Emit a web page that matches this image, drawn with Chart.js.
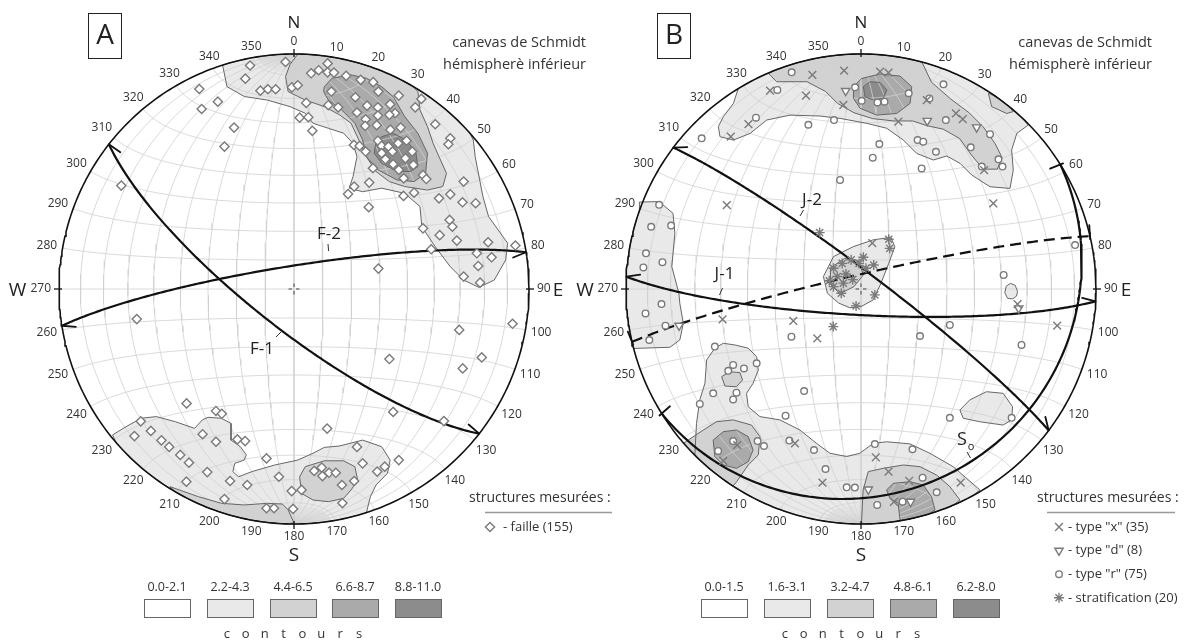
<!DOCTYPE html>
<html>
<head>
<meta charset="utf-8">
<script src="https://cdn.jsdelivr.net/npm/chart.js@4.4.0/dist/chart.umd.min.js"></script>
<style>
  html, body { margin: 0; padding: 0; background: #fff; }
  #wrap { position: relative; width: 1201px; height: 643px; overflow: hidden; }
  #wrap canvas { position: absolute; left: 0; top: 0; }
</style>
</head>
<body>
<div id="wrap">
  <canvas id="netA" width="1201" height="643"></canvas>
  <canvas id="netB" width="1201" height="643"></canvas>
</div>
<script>
const D2R = Math.PI / 180;

// ---------- data (net coordinates in % of the net radius, x = east, y = north) ----------
const azimuths = [0, 10, 20, 30, 40, 50, 60, 70, 80, 90, 100, 110, 120, 130, 140, 150, 160, 170,
  180, 190, 200, 210, 220, 230, 240, 250, 260, 270, 280, 290, 300, 310, 320, 330, 340, 350];

const contourClassesA = ['0.0-2.1', '2.2-4.3', '4.4-6.5', '6.6-8.7', '8.8-11.0'];
const contourClassesB = ['0.0-1.5', '1.6-3.1', '3.2-4.7', '4.8-6.1', '6.2-8.0'];

const structuresA = ['- faille (155)'];
const structuresB = ['- type "x" (35)', '- type "d" (8)', '- type "r" (75)', '- stratification (20)'];

// great circles: dip direction / dip
const planesA = [
  { name: 'F-1', dipDir: 218, dip: 76 },
  { name: 'F-2', dipDir: 351, dip: 82 }
];
const planesB = [
  { name: 'J-1', dipDir: 183, dip: 81 },
  { name: 'J-2', dipDir: 37, dip: 84 },
  { name: 'J-dash', dipDir: 347, dip: 85 },
  { name: 'So', dipDir: 148, dip: 14 }
];

const faillesA = [
  [-18.7, 95.1], [-20.7, 89.5], [-3.6, 96.6], [-40.3, 85.1], [-32.4, 79.7], [-39.3, 76.6], [-25.5, 68.7],
  [-29.6, 60.6], [-73.5, 44.0], [-14.3, 84.4], [-11.1, 85.0], [-7.8, 85.0], [-0.9, 85.8], [1.6, 86.7],
  [7.3, 91.8], [10.5, 93.1], [14.3, 96.0], [14.3, 92.2], [17.0, 92.1], [22.2, 90.7], [28.4, 89.0], [33.7, 88.0],
  [5.2, 79.2], [2.4, 72.9], [6.1, 73.1], [7.8, 67.3], [14.6, 78.2], [18.8, 77.3],
  [15.9, 84.0], [26.1, 81.6], [35.9, 84.0], [44.6, 82.3], [54.2, 80.9],
  [31.1, 78.0], [35.7, 77.3], [40.9, 78.6], [43.0, 74.8], [51.6, 77.3],
  [26.8, 75.1], [30.5, 72.2], [35.7, 73.8], [40.6, 74.1],
  [30.3, 69.4], [35.2, 69.7], [41.0, 67.8], [45.4, 68.7], [60.1, 70.1], [66.5, 64.1], [65.7, 61.6],
  [25.5, 61.3], [27.9, 60.9], [35.7, 63.1], [37.3, 60.9], [40.2, 60.6], [44.3, 62.0], [47.9, 63.1],
  [30.5, 58.5], [37.3, 57.8], [41.9, 58.5], [47.4, 55.6], [50.3, 58.5],
  [33.6, 51.4], [38.9, 55.2], [42.2, 53.1], [44.6, 50.7], [46.7, 47.1], [50.8, 52.8], [54.9, 48.5], [56.3, 46.8],
  [25.6, 43.6], [23.0, 40.4], [32.0, 45.3], [31.8, 34.8],
  [51.1, 41.0], [46.6, 39.6], [61.7, 38.6], [66.5, 40.3], [71.7, 36.9], [77.3, 36.5], [72.2, 45.7],
  [66.2, 29.4], [67.4, 26.5], [54.9, 25.8], [62.0, 22.9], [69.3, 20.6],
  [58.4, 16.9], [82.6, 19.9], [77.8, 15.2], [84.1, 13.5], [94.2, 18.5], [78.4, 9.8], [72.2, 5.3], [79.2, 2.7],
  [35.9, 8.7],
  [-66.9, -12.8], [93.0, -14.8], [70.3, -17.4], [40.6, -29.8], [79.9, -29.1], [71.8, -33.8], [-45.7, -48.7],
  [42.2, -52.3], [63.8, -56.2], [-33.2, -51.9], [-30.7, -53.1], [14.1, -59.4], [-65.2, -56.3], [-67.9, -62.6],
  [-60.9, -60.4], [-56.4, -64.4], [-53.1, -67.2], [-48.4, -70.6], [-44.7, -73.9], [-38.9, -61.8], [-33.2, -65.0],
  [-24.1, -64.0], [-20.8, -64.7], [-11.7, -72.1], [-36.9, -77.9], [-45.8, -82.0], [-27.2, -81.7], [-19.9, -83.4],
  [-6.4, -79.9], [-29.6, -89.4], [-11.7, -93.3], [-8.5, -93.3], [-0.4, -93.6], [-1.0, -86.0], [3.2, -85.5],
  [8.6, -77.4], [11.8, -76.0], [12.1, -79.6], [14.9, -78.2], [17.8, -78.2], [20.4, -83.4], [25.6, -81.7],
  [20.6, -91.1], [29.2, -74.2], [26.8, -67.2], [35.4, -77.7], [38.6, -75.6], [44.6, -72.8]
];

const typeX = [
  [-20.7, 91.1], [-7.2, 92.9], [-38.7, 84.4], [-23.4, 82.3], [-47.9, 70.2], [-55.4, 64.8], [-7.5, 78.3],
  [8.1, 92.5], [11.7, 92.1], [15.9, 71.2], [28.0, 80.4], [40.4, 74.7], [43.3, 72.3], [52.4, 50.6],
  [56.3, 36.4], [-57.1, 35.7], [4.8, 19.5], [66.6, -6.4], [-58.9, -12.9], [-28.8, -13.6], [-18.6, -21.0],
  [83.5, -15.6], [-52.7, -66.4], [-28.1, -65.7], [6.3, -71.6], [11.7, -77.7], [-16.4, -82.4], [20.5, -81.6],
  [14.0, -90.6], [42.4, -82.4], [-58.6, -73.1]
];
const typeD = [
  [-6.5, 84.3], [28.2, 71.6], [49.2, 68.8], [-77.4, -15.6], [3.1, -85.3], [21.1, -90.5], [67.1, -8.2]
];
const typeR = [
  [-29.5, 92.2], [-35.6, 84.7], [-44.7, 72.9], [-67.8, 64.1], [-22.4, 69.9], [-11.5, 71.9], [-2.5, 85.8],
  [0.3, 80.1], [7.0, 79.4], [10.0, 79.7], [20.3, 83.3], [35.1, 87.1], [29.1, 81.1], [36.1, 71.9], [7.8, 61.7],
  [5.0, 55.9], [-8.9, 46.4], [24.1, 63.4], [26.5, 62.7], [31.9, 58.4], [25.8, 51.3], [54.9, 65.9], [46.7, 60.3],
  [58.5, 55.2], [51.4, 52.1], [60.2, 52.1],
  [-85.9, 35.8], [-89.3, 26.5], [-80.8, 27.0], [-91.5, 15.2], [-84.5, 11.4], [-92.6, 9.2], [60.7, 6.0], [91.1, 18.7],
  [-84.9, -6.4], [-91.7, -10.4], [-83.2, -15.6], [-90.1, -21.7], [-29.6, -20.3], [25.1, -20.0], [37.8, -15.3],
  [68.3, -23.8], [-62.2, -24.5], [-54.4, -32.3], [-49.8, -33.8], [-56.5, -34.8], [-44.4, -31.6], [-62.9, -44.4],
  [-53.0, -44.1], [-54.4, -47.0], [-68.6, -48.9], [-24.2, -43.4], [-32.1, -53.9], [-54.4, -64.7], [-44.0, -64.7],
  [-41.3, -66.8], [-60.8, -68.9], [-30.5, -64.5], [-20.0, -68.5], [-15.1, -76.6], [-6.1, -84.4], [-2.6, -84.5],
  [5.9, -66.0], [21.9, -68.2], [26.2, -80.3], [32.2, -86.5], [6.9, -91.9], [17.7, -90.5], [37.8, -54.8], [64.1, -54.8]
];
const stratification = [
  [-17.6, 24.0], [11.8, 21.2], [12.2, 17.3], [-11.7, 8.8], [-8.0, 10.9], [-4.2, 12.4], [-0.8, 10.9], [2.1, 8.8],
  [5.4, 10.2], [-10.1, 5.3], [-6.4, 6.4], [-11.7, 1.0], [-8.4, -1.8], [5.9, -2.5], [-2.1, -7.2], [-11.8, -16.0],
  [-7.5, 2.5], [-3.5, 4.0], [-13.5, 3.5], [1.0, 13.5]
];

// contour regions: level = class index, close = follow the primitive from last point back to first (+1 cw, -1 ccw)
const contoursA = [
  { level: 1, close: -1, pts: [[-30.4, 95.3], [-28.5, 86.1], [-21.1, 81.9], [-11.4, 80.4], [-1.7, 77.6], [4.8, 74.8],
    [8.1, 70.5], [14.6, 68.4], [21.1, 66.3], [25.1, 62.0], [26.8, 56.3], [25.1, 47.8], [23.5, 42.9], [29.2, 41.4],
    [37.3, 42.9], [47.1, 40.7], [53.6, 35.1], [54.4, 26.5], [60.1, 18.0], [66.5, 9.5], [72.2, 3.8], [78.7, 0.7],
    [85.2, 3.8], [90.1, 12.4], [90.9, 19.5], [86.9, 25.1], [82.8, 30.8], [80.4, 39.3], [77.1, 56.3], [76.3, 63.4]] },
  { level: 2, close: -1, pts: [[1.6, 99.9], [-1.7, 95.5], [-3.6, 90.4], [-2.5, 84.0], [4.8, 80.4], [12.9, 77.6],
    [19.4, 74.1], [24.3, 70.5], [27.6, 63.4], [30.8, 56.3], [34.9, 50.0], [40.6, 45.7], [47.1, 43.6], [56.8, 42.1],
    [63.3, 43.6], [64.9, 49.2], [61.7, 56.3], [59.2, 62.0], [56.8, 69.1], [53.6, 76.2], [52.7, 84.0]] },
  { level: 3, close: 0, pts: [[12.9, 86.1], [16.2, 89.7], [24.3, 91.1], [30.8, 89.7], [37.3, 86.1], [42.2, 81.9],
    [47.1, 73.4], [52.7, 66.3], [56.8, 57.8], [56.0, 49.2], [51.1, 45.7], [43.8, 46.4], [35.7, 50.7], [30.8, 56.3],
    [29.2, 63.4], [25.9, 70.5], [20.3, 76.2], [14.6, 80.4], [12.6, 84.0]] },
  { level: 4, close: 0, pts: [[37.3, 64.8], [42.2, 66.3], [47.9, 63.4], [51.9, 57.8], [52.7, 52.1], [49.5, 50.0],
    [43.8, 50.0], [37.3, 53.5], [34.1, 57.8], [34.9, 62.7]] },
  { level: 1, close: 1, pts: [[-77.2, -62.1], [-71.5, -58.6], [-65.0, -55.0], [-58.5, -54.3], [-50.4, -56.5],
    [-42.3, -59.3], [-39.0, -55.7], [-36.6, -54.6], [-30.9, -55.0], [-26.8, -57.2], [-26.8, -64.3], [-22.8, -67.1],
    [-20.3, -70.6], [-21.2, -72.8], [-25.2, -74.2], [-26.0, -77.7], [-23.6, -79.9], [-17.9, -77.7], [-8.2, -74.9],
    [1.6, -72.8], [8.1, -69.9], [12.9, -67.4], [19.4, -66.8], [29.2, -64.3], [37.3, -67.1], [40.9, -72.8],
    [39.8, -78.4], [34.9, -83.4], [32.5, -88.4], [30.8, -95.2]] },
  { level: 2, close: 1, pts: [[-52.8, -84.1], [-40.6, -88.4], [-30.9, -91.2], [-21.2, -91.9], [-11.4, -91.2],
    [-4.9, -91.5], [-2.5, -94.0], [0.0, -99.5]] },
  { level: 2, close: 0, pts: [[2.4, -79.9], [4.8, -75.6], [12.9, -73.1], [21.1, -73.1], [25.9, -75.6], [27.1, -81.3],
    [24.3, -85.5], [21.1, -89.1], [14.6, -90.5], [8.1, -89.8], [3.2, -87.0]] }
];

const contoursB = [
  { level: 1, close: -1, pts: [[-52.2, 85.4], [-54.3, 79.0], [-58.6, 73.3], [-60.7, 69.1], [-60.0, 64.8], [-54.3, 63.4],
    [-47.2, 66.2], [-40.1, 71.9], [-30.2, 74.0], [-17.4, 73.6], [-8.9, 72.6], [2.4, 70.5], [10.9, 68.4], [18.0, 63.4],
    [23.7, 57.7], [30.8, 54.9], [36.5, 56.6], [42.1, 53.5], [47.1, 48.5], [54.9, 43.5], [63.4, 42.8], [64.8, 50.6],
    [64.1, 59.1], [66.3, 66.2], [71.2, 69.8]] },
  { level: 2, close: 1, pts: [[25.9, 96.6], [30.0, 88.0], [38.0, 81.0], [46.0, 75.0], [52.0, 69.0], [57.0, 62.0],
    [60.0, 56.0], [58.0, 51.0], [52.0, 51.0], [47.0, 57.0], [42.0, 64.0], [35.0, 68.0], [28.0, 69.5], [22.0, 71.5],
    [14.0, 71.5], [5.0, 72.5], [-3.0, 75.0], [-10.0, 79.0], [-15.0, 84.0], [-23.0, 88.2], [-35.9, 88.2], [-39.4, 91.8]] },
  { level: 3, close: 0, pts: [[-3.2, 86.1], [0.3, 89.6], [8.1, 91.5], [16.6, 90.6], [21.6, 86.1], [20.9, 79.0],
    [15.2, 74.7], [6.7, 74.0], [-0.4, 76.9], [-3.2, 81.1]] },
  { level: 4, close: 0, pts: [[1.0, 86.1], [3.9, 88.2], [8.1, 87.9], [11.0, 84.7], [9.5, 81.1], [5.3, 80.4], [1.7, 81.8]] },
  { level: 2, close: -1, pts: [[54.2, 83.3], [55.6, 77.6], [62.0, 74.7], [64.8, 75.5]] },
  { level: 1, close: 1, pts: [[-94.3, 37.0], [-85.9, 37.2], [-80.0, 32.2], [-79.2, 23.7], [-80.5, 9.5], [-77.5, -1.8],
    [-77.1, -6.1], [-75.6, -14.6], [-77.1, -21.7], [-81.3, -24.8], [-96.9, -25.3]] },
  { level: 1, close: 0, pts: [[-16.0, 5.3], [-11.7, 13.8], [-3.3, 18.0], [5.1, 20.9], [12.7, 22.0], [14.4, 18.0],
    [11.8, 10.9], [8.5, 2.4], [5.1, -4.7], [0.0, -7.5], [-4.7, -8.0], [-9.5, -6.0], [-14.3, -1.8]] },
  { level: 2, close: 0, pts: [[-13.0, 9.0], [-7.0, 13.0], [-1.0, 12.0], [1.0, 6.0], [-3.0, 1.0], [-9.0, -2.0], [-13.0, 2.0]] },
  { level: 1, close: -1, pts: [[50.6, -85.5], [39.2, -75.6], [29.3, -69.9], [20.8, -65.9], [10.9, -65.0], [5.2, -65.7],
    [-0.5, -69.9], [-6.1, -71.3], [-13.2, -69.9], [-18.9, -65.7], [-26.0, -60.0], [-34.5, -55.7], [-43.0, -54.3],
    [-48.0, -50.1], [-48.7, -44.4], [-45.9, -40.1], [-43.7, -34.5], [-44.4, -28.8], [-48.0, -25.2], [-53.7, -23.8],
    [-58.6, -23.1], [-62.2, -25.2], [-65.7, -30.2], [-66.4, -40.1], [-68.6, -47.2], [-70.0, -57.2], [-70.7, -70.6]] },
  { level: 2, close: 0, pts: [[-59.3, -37.3], [-55.8, -35.2], [-51.5, -35.6], [-50.4, -38.7], [-53.0, -41.6], [-57.9, -41.3]] },
  { level: 2, close: 1, pts: [[-75.5, -65.6], [-67.1, -60.0], [-61.5, -56.5], [-54.4, -55.7], [-46.6, -57.9],
    [-43.0, -62.8], [-43.7, -70.6], [-48.0, -74.9], [-52.9, -82.0], [-54.5, -83.9]] },
  { level: 3, close: 0, pts: [[-62.9, -64.3], [-58.6, -60.7], [-53.0, -60.0], [-48.0, -62.8], [-45.9, -68.5],
    [-48.0, -73.5], [-53.0, -76.3], [-58.6, -74.9], [-62.2, -71.3]] },
  { level: 2, close: 1, pts: [[0.2, -99.7], [0.9, -85.5], [3.1, -77.7], [9.5, -76.3], [18.0, -74.9], [25.1, -75.6],
    [32.2, -79.2], [37.8, -84.1], [42.1, -89.8]] },
  { level: 3, close: 1, pts: [[16.6, -98.3], [15.8, -91.2], [12.3, -89.1], [10.9, -85.5], [13.7, -82.7], [20.8, -82.0],
    [26.5, -83.4], [30.0, -88.4], [31.5, -94.0]] },
  { level: 1, close: 0, pts: [[42.1, -51.5], [46.3, -47.2], [53.4, -43.7], [60.5, -44.4], [64.5, -50.1], [64.1, -55.7],
    [60.5, -57.9], [50.6, -56.5], [43.5, -55.0]] },
  { level: 1, close: 0, pts: [[66.6, -1.0], [65.6, 1.6], [63.6, 2.4], [61.8, 1.2], [61.2, -1.6], [62.4, -4.0],
    [64.6, -4.2], [66.2, -3.0]] }
];

// ---------- styles ----------
const FONT = '"Open Sans", "DejaVu Sans", sans-serif';
const shades = ['#ffffff', '#e9e9e9', '#d2d2d2', '#aaaaaa', '#8c8c8c'];
const markGrey = '#7a7a7a';
const gridGrey = '#d0d0d0';
// end marks of the great circles: half arrow (barb) or cross tick, drawn on the side facing `toward` (azimuth)
const planeEnds = {
  'F-1': { kind: 'barb', toward: 38 }, 'F-2': { kind: 'barb', toward: 171 },
  'J-1': { kind: 'barb', toward: 3 }, 'J-2': { kind: 'barb', toward: 37 },
  'J-dash': { kind: 'tick', toward: 347 }, 'So': { kind: 'tick', toward: 328 }
};

// ---------- projection helpers (Schmidt net, lower hemisphere) ----------
function toXY(p) { return { x: p[0] / 100, y: p[1] / 100 }; }
function project(n, e, d) {
  if (d < 0) { n = -n; e = -e; d = -d; }
  const k = 1 / Math.sqrt(1 + d);
  return { x: e * k, y: n * k };
}
function planeVector(dipDir, dip, t) {
  const sa = (dipDir - 90) * D2R, da = dipDir * D2R, dp = dip * D2R;
  const c = Math.cos(t * D2R), s = Math.sin(t * D2R);
  return [Math.cos(sa) * c + Math.cos(dp) * Math.cos(da) * s,
          Math.sin(sa) * c + Math.cos(dp) * Math.sin(da) * s,
          Math.sin(dp) * s];
}
function greatCircle(dipDir, dip, t0 = 0, t1 = 180, step = 1) {
  const out = [];
  for (let t = t0; t <= t1 + 1e-9; t += step) {
    const v = planeVector(dipDir, dip, t);
    out.push(project(v[0], v[1], v[2]));
  }
  return out;
}
const GAP = { x: NaN, y: NaN };

function gridLines() {
  const pts = [];
  for (let dip = 10; dip <= 90; dip += 10) {
    [1, -1].forEach(side => {
      if (dip === 90 && side < 0) return;
      for (let t = 0; t <= 180; t += 2) {
        const n = Math.cos(t * D2R), s = Math.sin(t * D2R);
        pts.push(project(n, side * Math.cos(dip * D2R) * s, Math.sin(dip * D2R) * s));
      }
      pts.push(GAP);
    });
  }
  for (let a = 10; a <= 170; a += 10) {
    for (let f = 0; f <= 180; f += 2) {
      const n = Math.cos(a * D2R), e = Math.sin(a * D2R) * Math.cos(f * D2R), d = Math.sin(a * D2R) * Math.sin(f * D2R);
      pts.push(project(n, e, d));
    }
    pts.push(GAP);
  }
  return pts;
}
function poleFan() {
  const pts = [];
  for (let dip = 4; dip < 90; dip += 4) {
    if (dip % 10 === 0) continue;
    [1, -1].forEach(side => {
      [[0, 9], [171, 180]].forEach(([t0, t1]) => {
        for (let t = t0; t <= t1; t += 3) {
          const n = Math.cos(t * D2R), s = Math.sin(t * D2R);
          pts.push(project(n, side * Math.cos(dip * D2R) * s, Math.sin(dip * D2R) * s));
        }
        pts.push(GAP);
      });
    });
  }
  return pts;
}
function primitive() {
  const pts = [];
  for (let a = 0; a <= 360; a += 1) pts.push({ x: Math.sin(a * D2R), y: Math.cos(a * D2R) });
  return pts;
}
function regionData(c) {
  const out = c.pts.map(toXY);
  if (c.close) {
    const f = c.pts[0], l = c.pts[c.pts.length - 1];
    const a0 = Math.atan2(l[0], l[1]) / D2R, a1 = Math.atan2(f[0], f[1]) / D2R;
    let diff = a1 - a0;
    if (c.close > 0) { while (diff <= 0) diff += 360; } else { while (diff >= 0) diff -= 360; }
    const n = Math.ceil(Math.abs(diff) / 2);
    for (let i = 1; i < n; i++) {
      const a = (a0 + diff * i / n) * D2R;
      out.push({ x: Math.sin(a), y: Math.cos(a) });
    }
  }
  out.push(out[0]);
  return out;
}

function lineSet(data, color, width, order, extra) {
  return Object.assign({
    data, showLine: true, pointRadius: 0, borderColor: color, borderWidth: width,
    backgroundColor: 'rgba(0,0,0,0)', fill: false, tension: 0, order, clip: false
  }, extra || {});
}
function markerSet(data, style, radius, order, extra) {
  return Object.assign({
    data: data.map(toXY), pointStyle: style, pointRadius: radius, pointBorderWidth: 1.4,
    borderColor: markGrey, backgroundColor: '#fff', order, clip: false
  }, extra || {});
}

function netDatasets(contours, planes, markers) {
  const ds = [];
  markers.forEach(m => ds.push(m));
  planes.forEach(p => ds.push(lineSet(greatCircle(p.dipDir, p.dip), '#111', 2.2, 20,
    p.name === 'J-dash' ? { borderDash: [11, 6] } : {})));
  ds.push(lineSet(primitive(), '#111', 1.6, 25));
  contours.forEach(c => ds.push(lineSet(regionData(c), '#666', 1, 40)));
  ds.push(lineSet(gridLines(), gridGrey, 0.8, 50));
  ds.push(lineSet(poleFan(), gridGrey, 0.6, 51));
  contours.forEach(c => ds.push(lineSet(regionData(c), 'rgba(0,0,0,0)', 0, 60 - c.level,
    { fill: 'shape', backgroundColor: shades[c.level] })));
  return ds;
}

// ---------- page layout for texts ----------
const panels = {
  A: {
    letter: 'A', box: [88, 13, 33, 45], planes: planesA,
    cardinal: [['N', 294, 23], ['W', 17.5, 291], ['E', 558, 291], ['S', 294, 556]],
    noteX: 586,
    labels: [['F-2', 329, 234, [328, 244, 328.6, 251]], ['F-1', 262, 349, [276, 337, 282, 331]]],
    legendX: 469, underline: [485, 612], itemX: 490, textX: 503, markers: ['diamond'], items: structuresA,
    boxesX: [144, 207, 270, 332, 395], classes: contourClassesA, contoursX: 293
  },
  B: {
    letter: 'B', box: [657, 13, 33, 45], planes: planesB,
    cardinal: [['N', 861, 23], ['W', 585, 291], ['E', 1126, 291], ['S', 861, 556]],
    noteX: 1152,
    labels: [['J-2', 812, 200, [800, 216, 803.5, 210]], ['J-1', 724.5, 274.5, [719.5, 295, 722.5, 288]]],
    legendX: 1037, underline: [1047, 1175], itemX: 1059, textX: 1068,
    markers: ['cross', 'tri', 'circle', 'star'], items: structuresB,
    boxesX: [701, 764, 827, 890, 953], classes: contourClassesB, contoursX: 851
  }
};

function legendMarker(ctx, kind, x, y) {
  const opts = {
    diamond: { pointStyle: 'rectRot', radius: 4.6 },
    cross: { pointStyle: 'crossRot', radius: 5.5 },
    tri: { pointStyle: 'triangle', radius: 4.8, rotation: 180 },
    circle: { pointStyle: 'circle', radius: 3.3 },
    star: { pointStyle: 'star', radius: 5 }
  }[kind];
  ctx.save();
  ctx.strokeStyle = markGrey; ctx.fillStyle = '#fff'; ctx.lineWidth = 1.4;
  Chart.helpers.drawPoint(ctx, Object.assign({ borderWidth: 1.4, rotation: 0 }, opts), x, y);
  ctx.restore();
}

// half arrows / ticks at both ends of every great circle, placed through the scales
function drawPlaneEnds(ctx, xs, ys, planes) {
  ctx.save();
  ctx.strokeStyle = '#111'; ctx.lineWidth = 1.8; ctx.lineCap = 'round';
  planes.forEach(p => {
    const st = planeEnds[p.name];
    if (!st) return;
    const side = [Math.sin(st.toward * D2R), -Math.cos(st.toward * D2R)];
    [[0, 5], [180, 175]].forEach(([ta, tb]) => {
      const va = planeVector(p.dipDir, p.dip, ta), vb = planeVector(p.dipDir, p.dip, tb);
      const a = project(va[0], va[1], va[2]), b = project(vb[0], vb[1], vb[2]);
      const ax = xs.getPixelForValue(a.x), ay = ys.getPixelForValue(a.y);
      const bx = xs.getPixelForValue(b.x), by = ys.getPixelForValue(b.y);
      let tx = bx - ax, ty = by - ay;
      const L = Math.hypot(tx, ty); tx /= L; ty /= L;
      let nx = -ty, ny = tx;
      if (nx * side[0] + ny * side[1] < 0) { nx = -nx; ny = -ny; }
      ctx.beginPath();
      if (st.kind === 'barb') {
        const c = Math.cos(28 * D2R), s = Math.sin(28 * D2R);
        ctx.moveTo(ax, ay);
        ctx.lineTo(ax + 14 * (c * tx + s * nx), ay + 14 * (c * ty + s * ny));
      } else {
        ctx.moveTo(ax - 3 * nx, ay - 3 * ny);
        ctx.lineTo(ax + 11 * nx, ay + 11 * ny);
      }
      ctx.stroke();
    });
  });
  ctx.restore();
}

const decor = {
  id: 'decor',
  afterDraw(chart) {
    const P = panels[chart.canvas.id === 'netA' ? 'A' : 'B'];
    const { ctx } = chart;
    const xs = chart.scales.x, ys = chart.scales.y;
    const cx = xs.getPixelForValue(0), cy = ys.getPixelForValue(0);
    const R = xs.getPixelForValue(1) - cx;
    drawPlaneEnds(ctx, xs, ys, P.planes);
    ctx.save();
    ctx.textAlign = 'center'; ctx.textBaseline = 'middle';

    // azimuth graduation
    ctx.font = '12px ' + FONT; ctx.fillStyle = '#333';
    azimuths.forEach(a => {
      const t = String(a), w = ctx.measureText(t).width, h = 9;
      const s = Math.sin(a * D2R), c = Math.cos(a * D2R);
      const d = R + 5 + Math.abs(s) * w / 2 + Math.abs(c) * h / 2 + (a % 90 === 0 ? 3 : 0);
      ctx.fillText(t, cx + s * d, cy - c * d);
    });
    // cardinal ticks
    ctx.strokeStyle = '#111'; ctx.lineWidth = 1.3;
    [0, 90, 180, 270].forEach(a => {
      const s = Math.sin(a * D2R), c = Math.cos(a * D2R);
      ctx.beginPath();
      ctx.moveTo(cx + s * (R - 3), cy - c * (R - 3));
      ctx.lineTo(cx + s * (R + 5), cy - c * (R + 5));
      ctx.stroke();
    });
    // centre mark
    ctx.lineWidth = 1; ctx.strokeStyle = '#444';
    [[1, 0], [-1, 0], [0, 1], [0, -1]].forEach(([dx, dy]) => {
      ctx.beginPath();
      ctx.moveTo(cx + dx * 2, cy + dy * 2); ctx.lineTo(cx + dx * 5.5, cy + dy * 5.5);
      ctx.stroke();
    });
    // cardinal letters
    ctx.fillStyle = '#222';
    P.cardinal.forEach(([t, x, y]) => { ctx.font = (t === 'N' ? 17 : 19) + 'px ' + FONT; ctx.fillText(t, x, y); });

    // panel letter
    ctx.strokeStyle = '#222'; ctx.lineWidth = 1;
    ctx.strokeRect(P.box[0] + 0.5, P.box[1] + 0.5, P.box[2], P.box[3]);
    ctx.font = '28px ' + FONT;
    ctx.fillText(P.letter, P.box[0] + P.box[2] / 2 + 0.5, P.box[1] + P.box[3] / 2 + 1);

    // net description
    ctx.textAlign = 'right'; ctx.font = '14.5px ' + FONT; ctx.fillStyle = '#333';
    ctx.fillText('canevas de Schmidt', P.noteX, 43);
    ctx.fillText('hémispherè inférieur', P.noteX, 65);

    // plane names
    ctx.textAlign = 'center'; ctx.font = '17px ' + FONT; ctx.fillStyle = '#222';
    ctx.strokeStyle = '#333'; ctx.lineWidth = 1;
    P.labels.forEach(([t, x, y, tk]) => {
      ctx.fillText(t, x, y);
      ctx.beginPath(); ctx.moveTo(tk[0], tk[1]); ctx.lineTo(tk[2], tk[3]); ctx.stroke();
    });
    if (P.letter === 'B') {
      ctx.font = '18px ' + FONT; ctx.fillText('S', 962, 440);
      ctx.font = '11px ' + FONT; ctx.fillText('o', 971, 447);
      ctx.beginPath(); ctx.moveTo(967, 452); ctx.lineTo(970.5, 458); ctx.stroke();
    }

    // measured structures legend
    ctx.textAlign = 'left'; ctx.font = '14px ' + FONT; ctx.fillStyle = '#333';
    ctx.fillText('structures mesurées :', P.legendX, 498);
    ctx.strokeStyle = '#999'; ctx.lineWidth = 1.6;
    ctx.beginPath(); ctx.moveTo(P.underline[0], 512.5); ctx.lineTo(P.underline[1], 512.5); ctx.stroke();
    ctx.font = '13px ' + FONT;
    P.items.forEach((t, i) => {
      const y = 527 + i * 23.6;
      legendMarker(ctx, P.markers[i], P.itemX, y);
      ctx.fillStyle = '#333';
      ctx.fillText(t, P.textX, y);
    });

    // contour classes legend
    ctx.textAlign = 'center'; ctx.font = '12.5px ' + FONT;
    P.boxesX.forEach((bx, i) => {
      ctx.fillStyle = '#333';
      ctx.fillText(P.classes[i], bx + 23, 587);
      ctx.fillStyle = shades[i]; ctx.fillRect(bx, 599, 46, 18);
      ctx.strokeStyle = '#666'; ctx.lineWidth = 1; ctx.strokeRect(bx + 0.5, 599.5, 46, 18);
    });
    ctx.fillStyle = '#333'; ctx.font = '13px ' + FONT;
    const word = 'contours';
    for (let i = 0; i < word.length; i++) ctx.fillText(word[i], P.contoursX + (i - 3.5) * 18.9, 634);
    ctx.restore();
  }
};

function makeNet(id, padding, datasets) {
  return new Chart(document.getElementById(id), {
    type: 'scatter',
    data: { datasets },
    options: {
      responsive: false, animation: false, events: [],
      layout: { padding },
      scales: {
        x: { type: 'linear', min: -1, max: 1, display: false },
        y: { type: 'linear', min: -1, max: 1, display: false }
      },
      plugins: { legend: { display: false }, tooltip: { enabled: false } }
    },
    plugins: [decor]
  });
}

makeNet('netA', { left: 59, right: 672, top: 54, bottom: 119 },
  netDatasets(contoursA, planesA, [markerSet(faillesA, 'rectRot', 4.6, 10)]));

makeNet('netB', { left: 626, right: 105, top: 54, bottom: 119 },
  netDatasets(contoursB, planesB, [
    markerSet(typeX, 'crossRot', 5.5, 10),
    markerSet(typeD, 'triangle', 4.8, 10, { pointRotation: 180 }),
    markerSet(typeR, 'circle', 3.3, 10),
    markerSet(stratification, 'star', 5, 10)
  ]));
</script>
</body>
</html>
